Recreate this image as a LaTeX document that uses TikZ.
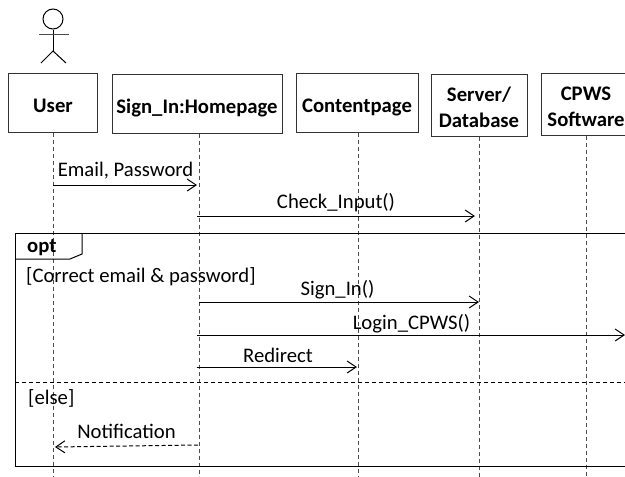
\documentclass[tikz,border=0pt]{standalone}
\usepackage{fontspec}
\setmainfont{Carlito}
\usetikzlibrary{arrows.meta}
\tikzstyle{lifebox} = [rectangle, 
inner sep=0pt, 
align=center, 
font=\fontsize{20.7}{26}\selectfont\bfseries, 
draw=black!80, 
line width=1pt]
\tikzstyle{lifeone} = [lifebox, 
text height=20pt, 
text depth=0pt, 
minimum height=59pt]
\tikzstyle{lifetwo} = [lifebox, 
minimum height=62pt]
\tikzstyle{lifeline} = [line width=1pt, draw=black!70, dash pattern=on 4pt off 3pt]
\tikzstyle{arrow} = [line width=1pt,->,>={Straight Barb[length=9pt,width=12pt]}]
\tikzstyle{retarrow} = [arrow, dash pattern=on 4pt off 2.5pt]
\tikzstyle{msg} = [inner sep=0pt, font=\fontsize{20.7}{25}\selectfont]

\begin{document}
\begin{tikzpicture}[x=1pt,y=-1pt]
\useasboundingbox (0,0) rectangle (625,477);

% actor
\node (head) [circle, draw=black, line width=1pt, minimum size=20pt, inner sep=0pt] at (53,19) {};
\coordinate (hip) at (53,51);
\coordinate (arm_l) at (39,34);
\coordinate (arm_r) at (69,34);
\coordinate (leg_l) at (41,63);
\coordinate (leg_r) at (66,63);
\draw [line width=1pt] (head) -- (hip);
\draw [line width=1pt, draw=black!70] (arm_l) -- (arm_r);
\draw [line width=1pt] (leg_l) -- (hip) -- (leg_r);

% lifelines
\node (user) [lifeone, minimum width=89pt] at (53,102.5) {User};
\node (home) [lifeone, minimum width=170pt] at (197,103.5) {Sign\_In:Homepage};
\node (content) [lifeone, minimum width=122pt] at (357,102.5) {Contentpage};
\node (server) [lifetwo, minimum width=96pt] at (479,105) {\rule{0pt}{20pt}Server/\\Database};
\node (cpws) [lifetwo, minimum width=90pt] at (586,104) {\rule{0pt}{19pt}CPWS\\Software};

\coordinate (user_end) at (53,477);
\coordinate (home_end) at (199,477);
\coordinate (content_end) at (358,477);
\coordinate (server_end) at (479,477);
\coordinate (cpws_end) at (586,477);

\draw [lifeline] (user) -- (user_end);
\draw [lifeline] (home.south -| home_end) -- (home_end);
\draw [lifeline] (content.south -| content_end) -- (content_end);
\draw [lifeline] (server) -- (server_end);
\draw [lifeline] (cpws) -- (cpws_end);

% opt frame
\draw [line width=1pt] (628,233) -- (15,233) -- (15,466) -- (628,466);
\draw [line width=1pt] (15,259) -- (70,259) -- (82,254) -- (82,233);
\draw [line width=1pt, dash pattern=on 4pt off 3pt] (15,382) -- (628,382);
\node (opt) [msg, anchor=base west, font=\fontsize{20.7}{25}\selectfont\bfseries] at (27,252) {opt};
\node (guard) [msg, anchor=base west] at (26,282) {[Correct email \& password]};
\node (else) [msg, anchor=base west] at (28,404.5) {[else]};

% messages
\coordinate (email_a) at (53,185);
\coordinate (email_b) at (197,185);
\coordinate (check_a) at (197,216);
\coordinate (check_b) at (475,216);
\coordinate (signin_a) at (199,302);
\coordinate (signin_b) at (479,302);
\coordinate (login_a) at (197,335);
\coordinate (login_b) at (625,335);
\coordinate (redirect_a) at (197,367);
\coordinate (redirect_b) at (357,367);
\coordinate (notify_a) at (198,445);
\coordinate (notify_b) at (55,447);

\draw [arrow] (email_a) -- (email_b);
\draw [arrow] (check_a) -- (check_b);
\draw [arrow] (signin_a) -- (signin_b);
\draw [arrow] (login_a) -- (login_b);
\draw [arrow] (redirect_a) -- (redirect_b);
\draw [retarrow] (notify_a) -- (notify_b);

\node (email) [msg, anchor=base] at (125.5,176) {Email, Password};
\node (check) [msg, anchor=base] at (336,208) {Check\_Input()};
\node (signin) [msg, anchor=base] at (337.5,295) {Sign\_In()};
\node (login) [msg, anchor=base] at (411.5,329.5) {Login\_CPWS()};
\node (redirect) [msg, anchor=base] at (278,362) {Redirect};
\node (notify) [msg, anchor=base] at (126.5,438) {Notification};

\end{tikzpicture}
\end{document}
